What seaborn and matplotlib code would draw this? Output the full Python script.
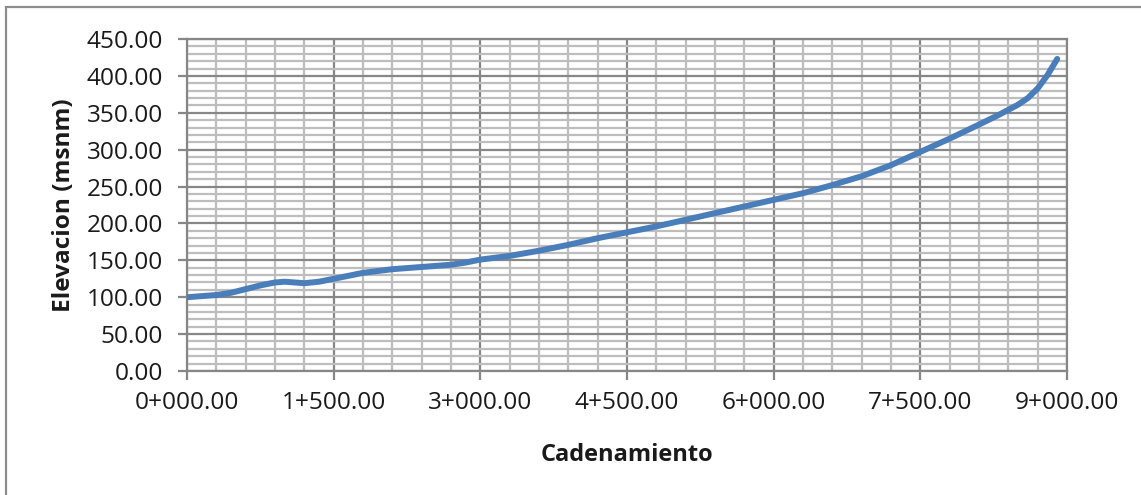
import matplotlib
matplotlib.use("Agg")
import matplotlib.pyplot as plt
from matplotlib.patches import Rectangle
from matplotlib.ticker import MultipleLocator, FuncFormatter
import seaborn as sns
import pandas as pd

# Chainage (m) and ground elevation (m a.s.l.) along the alignment
cadenamiento = [0, 300, 450, 600, 750, 900, 1000, 1100, 1200, 1350, 1500, 1800,
                2100, 2400, 2700, 2850, 3000, 3300, 3600, 3900, 4200, 4500, 4800,
                5100, 5400, 5700, 6000, 6300, 6600, 6900, 7200, 7500, 7800, 8100,
                8300, 8500, 8600, 8700, 8800, 8900]
elevacion = [100, 103, 106, 111, 116, 120, 121, 120, 119, 121, 125, 133,
             138, 141, 144, 147, 151, 156, 163, 171, 180, 188, 196,
             205, 214, 223, 232, 241, 252, 264, 279, 297, 315, 334,
             347, 361, 370, 383, 401, 423]

x_ticks_major = 1500
x_ticks_minor = 300
y_ticks_major = 50
y_ticks_minor = 10

df = pd.DataFrame({"Cadenamiento": cadenamiento, "Elevacion": elevacion})

sns.set_theme(style="white")
plt.rcParams["font.family"] = ["Open Sans", "DejaVu Sans"]

W, H = 1141, 495
fig = plt.figure(figsize=(W / 100, H / 100), dpi=100)
ax = fig.add_axes([187 / W, 1 - 371 / H, 880 / W, 332 / H])

major_c = "#878787"
minor_c = "#bdbdbd"

sns.lineplot(data=df, x="Cadenamiento", y="Elevacion", ax=ax,
             color="#4a7ebb", linewidth=4.3, zorder=5)
ax.lines[0].set_solid_capstyle("round")
ax.lines[0].set_solid_joinstyle("round")

ax.set_xlim(0, 9000)
ax.set_ylim(0, 450)
ax.xaxis.set_major_locator(MultipleLocator(x_ticks_major))
ax.xaxis.set_minor_locator(MultipleLocator(x_ticks_minor))
ax.yaxis.set_major_locator(MultipleLocator(y_ticks_major))
ax.yaxis.set_minor_locator(MultipleLocator(y_ticks_minor))


def chainage(v, pos):
    km = int(v // 1000)
    m = v - km * 1000
    return f"{km}+{m:06.2f}"


ax.xaxis.set_major_formatter(FuncFormatter(chainage))
ax.yaxis.set_major_formatter(FuncFormatter(lambda v, p: f"{v:.2f}"))

ax.grid(which="minor", color=minor_c, linewidth=1.6, zorder=0)
ax.grid(which="major", color=major_c, linewidth=1.6, zorder=1)
ax.set_axisbelow(True)

for s in ax.spines.values():
    s.set_color(major_c)
    s.set_linewidth(1.6)

ax.tick_params(axis="both", which="major", length=6.5, width=1.6,
               color=major_c, direction="out", labelsize=17.6,
               labelcolor="#1a1a1a", bottom=True, left=True)
ax.tick_params(axis="x", which="major", pad=8)
ax.tick_params(axis="y", which="major", pad=11)
ax.tick_params(which="minor", length=0)

ax.set_xlabel("Cadenamiento", fontsize=17, fontweight="bold", color="#1a1a1a")
ax.set_ylabel("Elevacion (msnm)", fontsize=17.6, fontweight="bold", color="#1a1a1a")
ax.xaxis.set_label_coords(0.5, -0.218)
ax.yaxis.set_label_coords(-0.126, 0.5)

fig.add_artist(Rectangle((6 / W, -0.2), 1.5, 1.2 - 7 / H, transform=fig.transFigure,
                         fill=False, edgecolor="#8c8c8c", linewidth=1.6,
                         clip_on=False))

fig.savefig("out.png", dpi=100)
